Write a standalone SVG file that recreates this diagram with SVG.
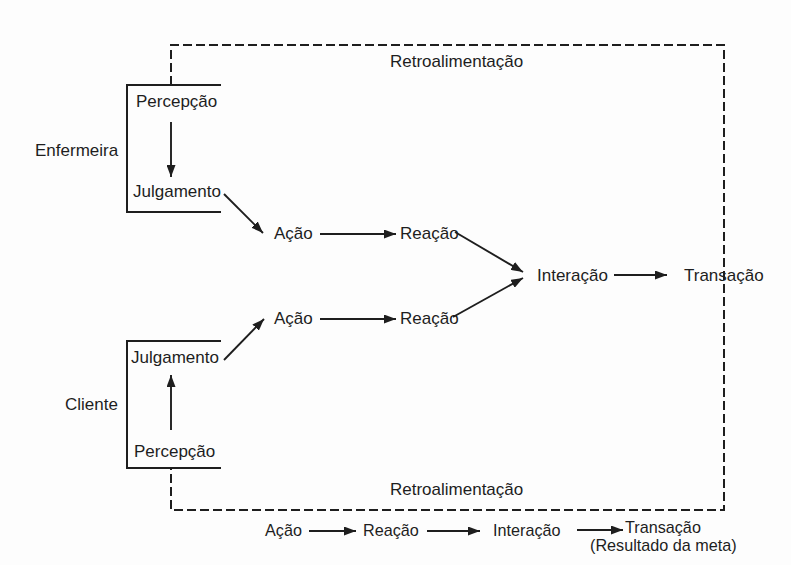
<svg xmlns="http://www.w3.org/2000/svg" width="791" height="565" viewBox="0 0 791 565">
  <defs>
    <marker id="arrow" viewBox="0 0 12 9" markerUnits="userSpaceOnUse" markerWidth="12" markerHeight="9" refX="12" refY="4.5" orient="auto">
      <path d="M0,0 L12,4.5 L0,9 z" fill="#1e1e1e"/>
    </marker>
    <style>
      text { font-family: "Liberation Sans", Arial, sans-serif; font-size: 17px; fill: #1e1e1e; }
      .small { font-size: 16.2px; }
      .bracket { fill: none; stroke: #1e1e1e; stroke-width: 2; }
      .feedback { fill: none; stroke: #1e1e1e; stroke-width: 2; stroke-dasharray: 9 4; }
      .arrow { fill: none; stroke: #1e1e1e; stroke-width: 1.9; marker-end: url(#arrow); }
    </style>
  </defs>
  <rect width="791" height="565" fill="#fdfdfd"/>

  <!-- feedback loop -->
  <g id="feedback-loop">
    <path class="feedback" d="M171,85 V45 H724 V510 H171 V468"/>
    <text x="390" y="67" font-size="16.2">Retroalimentação</text>
    <text x="390" y="495" font-size="16.2">Retroalimentação</text>
  </g>

  <!-- nurse -->
  <g id="nurse">
    <path class="bracket" d="M221,85 H127 V212 H221"/>
    <text x="35" y="156">Enfermeira</text>
    <text x="136" y="107">Percepção</text>
    <text x="133" y="197">Julgamento</text>
  </g>

  <!-- client -->
  <g id="client">
    <path class="bracket" d="M221,341 H127 V468 H221"/>
    <text x="65" y="410">Cliente</text>
    <text x="131" y="363">Julgamento</text>
    <text x="134" y="457">Percepção</text>
  </g>

  <g id="nurse-action"><text x="274" y="239">Ação</text></g>
  <g id="nurse-reaction"><text x="400" y="239">Reação</text></g>
  <g id="client-action"><text x="274" y="324">Ação</text></g>
  <g id="client-reaction"><text x="400" y="324">Reação</text></g>
  <g id="interaction"><text x="537" y="281">Interação</text></g>
  <g id="transaction"><text x="684" y="281">Transação</text></g>

  <!-- summary row -->
  <g id="summary">
    <text class="small" x="265" y="536">Ação</text>
    <text class="small" x="363" y="536">Reação</text>
    <text class="small" x="493" y="536">Interação</text>
    <text class="small" x="625" y="533">Transação</text>
    <text class="small" x="590" y="551">(Resultado da meta)</text>
  </g>

  <!-- connectors -->
  <g id="connectors">
    <line class="arrow" x1="171" y1="122" x2="171" y2="177"/>
    <line class="arrow" x1="171" y1="430" x2="171" y2="375"/>
    <line class="arrow" x1="224" y1="194" x2="263" y2="233"/>
    <line class="arrow" x1="224" y1="360" x2="264" y2="319"/>
    <line class="arrow" x1="320" y1="234" x2="396" y2="234"/>
    <line class="arrow" x1="320" y1="319" x2="396" y2="319"/>
    <line class="arrow" x1="455" y1="232" x2="523" y2="272"/>
    <line class="arrow" x1="453" y1="317" x2="523" y2="278"/>
    <line class="arrow" x1="614" y1="275" x2="667" y2="275"/>
    <line class="arrow" x1="309" y1="531" x2="356" y2="531"/>
    <line class="arrow" x1="427" y1="531" x2="480" y2="531"/>
    <line class="arrow" x1="577" y1="530" x2="623" y2="530"/>
  </g>
</svg>
